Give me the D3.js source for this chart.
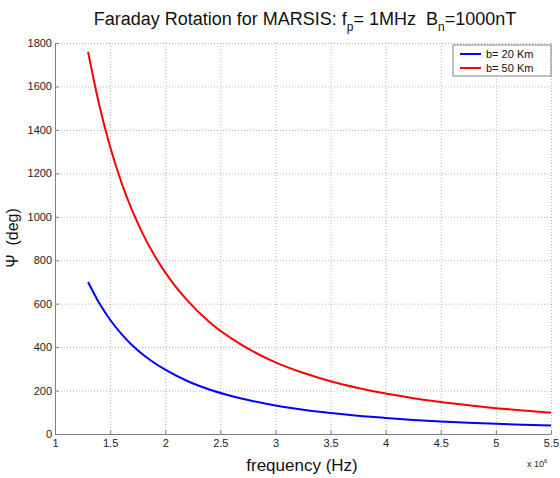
<!DOCTYPE html>
<html>
<head>
<meta charset="utf-8">
<script src="https://cdn.jsdelivr.net/npm/d3@7"></script>
<style>
  body { margin: 0; background: #fff; }
  svg { font-family: "Liberation Sans", Arial, sans-serif; }
  .grid line { stroke: #b4b4b4; stroke-dasharray: 1,2; }
  .grid path { display: none; }
  .axis path, .axis line { stroke: #808080; }
  .axis text { fill: #222; font-size: 11px; }
  .title { white-space: pre; }
</style>
</head>
<body>
<script>
// frequency in units of 1e6 Hz
let freq = [1.3,1.4,1.5,1.6,1.7,1.8,1.9,2.0,2.2,2.4,2.6,2.8,3.0,3.25,3.5,3.75,4.0,4.25,4.5,4.75,5.0,5.25,5.5];
let psi_b20 = [700,604,526,462,409,365,328,296,244,205,175,151,131,112,97,84,74,65,58,52,47,43,39];
let psi_b50 = [1760,1518,1322,1162,1029,918,824,744,615,516,440,379,330,282,243,212,186,165,147,132,119,108,98];
let series_names = ["b= 20 Km","b= 50 Km"];
let series_colors = ["#0000ff","#ff0000"];
let xticks = [1,1.5,2,2.5,3,3.5,4,4.5,5,5.5];
let yticks = [0,200,400,600,800,1000,1200,1400,1600,1800];

let w=560, h=478;
let m_left=55, m_right=551, m_top=43, m_bottom=434;

const svg = d3.select("body").append("svg")
      .attr("width",w)
      .attr("height",h);

const x_scale = d3.scaleLinear()
      .domain([1,5.5])
      .range([m_left,m_right]);
const y_scale = d3.scaleLinear()
      .domain([0,1800])
      .range([m_bottom,m_top]);

// grid
svg.append("g")
  .attr("class","grid")
  .attr("transform",`translate(0,${m_bottom})`)
  .call(d3.axisBottom(x_scale).tickValues(xticks.slice(1)).tickSize(-(m_bottom-m_top)).tickFormat(""));
svg.append("g")
  .attr("class","grid")
  .attr("transform",`translate(${m_left},0)`)
  .call(d3.axisLeft(y_scale).tickValues(yticks.slice(1)).tickSize(-(m_right-m_left)).tickFormat(""));

// axes
svg.append("g")
  .attr("class","axis")
  .attr("transform",`translate(0,${m_bottom})`)
  .call(d3.axisBottom(x_scale).tickValues(xticks).tickSize(-4).tickSizeOuter(0).tickPadding(5).tickFormat(d3.format("")));
svg.append("g")
  .attr("class","axis")
  .attr("transform",`translate(${m_left},0)`)
  .call(d3.axisLeft(y_scale).tickValues(yticks).tickSize(-4).tickSizeOuter(0).tickPadding(3).tickFormat(d3.format("")));

// curves
let all_series = [psi_b20, psi_b50];
const line = d3.line()
      .x((d,i) => x_scale(freq[i]))
      .y(d => y_scale(d))
      .curve(d3.curveMonotoneX);
svg.selectAll(".curve")
  .data(all_series)
  .enter()
  .append("path")
  .attr("class","curve")
  .attr("d",line)
  .attr("fill","none")
  .attr("stroke",(d,i) => series_colors[i])
  .attr("stroke-width",2);

// title
const title = svg.append("text")
  .attr("class","title")
  .attr("x",305)
  .attr("y",25)
  .attr("text-anchor","middle")
  .attr("font-size",18)
  .attr("fill","#111");
title.append("tspan").text("Faraday Rotation for MARSIS: f");
title.append("tspan").text("p").attr("font-size",12).attr("dy",6);
title.append("tspan").text("= 1MHz  B").attr("dy",-6);
title.append("tspan").text("n").attr("font-size",12).attr("dy",6);
title.append("tspan").text("=1000nT").attr("dy",-6);

// axis labels
svg.append("text")
  .attr("x",302)
  .attr("y",471)
  .attr("text-anchor","middle")
  .attr("font-size",17)
  .attr("fill","#111")
  .text("frequency (Hz)");
const xexp = svg.append("text")
  .attr("x",527)
  .attr("y",467)
  .attr("font-size",9)
  .attr("fill","#222");
xexp.append("tspan").text("x 10");
xexp.append("tspan").text("6").attr("font-size",6).attr("dy",-4);

svg.append("text")
  .attr("class","title")
  .attr("transform","translate(18,238) rotate(-90)")
  .attr("text-anchor","middle")
  .attr("font-size",16)
  .attr("fill","#111")
  .text("\u03a8  (deg)");

// legend
const legend = svg.append("g");
legend.append("rect")
  .attr("x",453).attr("y",45)
  .attr("width",98).attr("height",31)
  .attr("fill","#fff")
  .attr("stroke","#808080");
series_names.forEach((name,i) => {
  legend.append("line")
    .attr("x1",460).attr("x2",481)
    .attr("y1",54+i*14).attr("y2",54+i*14)
    .attr("stroke",series_colors[i])
    .attr("stroke-width",2);
  legend.append("text")
    .attr("x",486).attr("y",58+i*14)
    .attr("font-size",11)
    .attr("fill","#111")
    .text(name);
});
</script>
</body>
</html>
